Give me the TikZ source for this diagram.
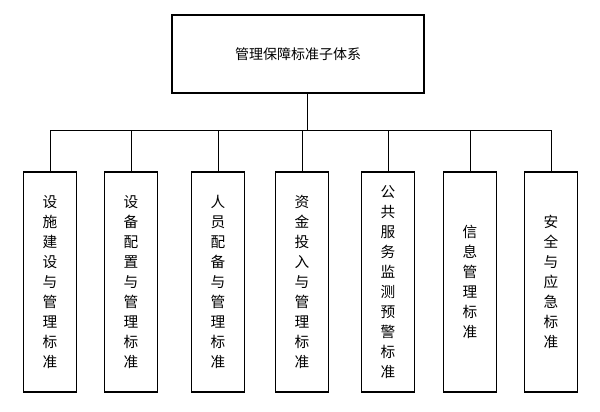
\documentclass[tikz,border=0pt]{standalone}
\usepackage{fontspec}
\setmainfont{Noto Sans CJK SC}
\usetikzlibrary{positioning}
\tikzset{
  box/.style={draw,thick,minimum width=53*0.75pt,minimum height=220*0.75pt,inner sep=0pt},
  vtext/.style={align=center,font=\fontsize{11pt}{15pt}\selectfont}
}
\begin{document}
\begin{tikzpicture}[x=0.75pt,y=-0.75pt]
    \useasboundingbox (0,0) rectangle (600,411);
    \node[draw,thick,minimum width=252*0.75pt,minimum height=78*0.75pt,font=\fontsize{10.5pt}{12pt}\selectfont] (top) at (298,54) {管理保障标准子体系};
    \coordinate (bus) at (307,130);
    \foreach \x/\t [count=\i] in {50/设\\施\\建\\设\\与\\管\\理\\标\\准,
        131/设\\备\\配\\置\\与\\管\\理\\标\\准,
        218/人\\员\\配\\备\\与\\管\\理\\标\\准,
        302/资\\金\\投\\入\\与\\管\\理\\标\\准,
        388/公\\共\\服\\务\\监\\测\\预\\警\\标\\准,
        470/信\\息\\管\\理\\标\\准,
        551/安\\全\\与\\应\\急\\标\\准}{
      \node[box] (c\i) at (\x,282) {};
      \node[vtext] at (c\i) {\t};
      \draw (c\i.north) -- (c\i.north |- bus);
    }
    \draw (top.south -| bus) -- (bus);
    \draw (c1.north |- bus) -- (c7.north |- bus);
\end{tikzpicture}
\end{document}
